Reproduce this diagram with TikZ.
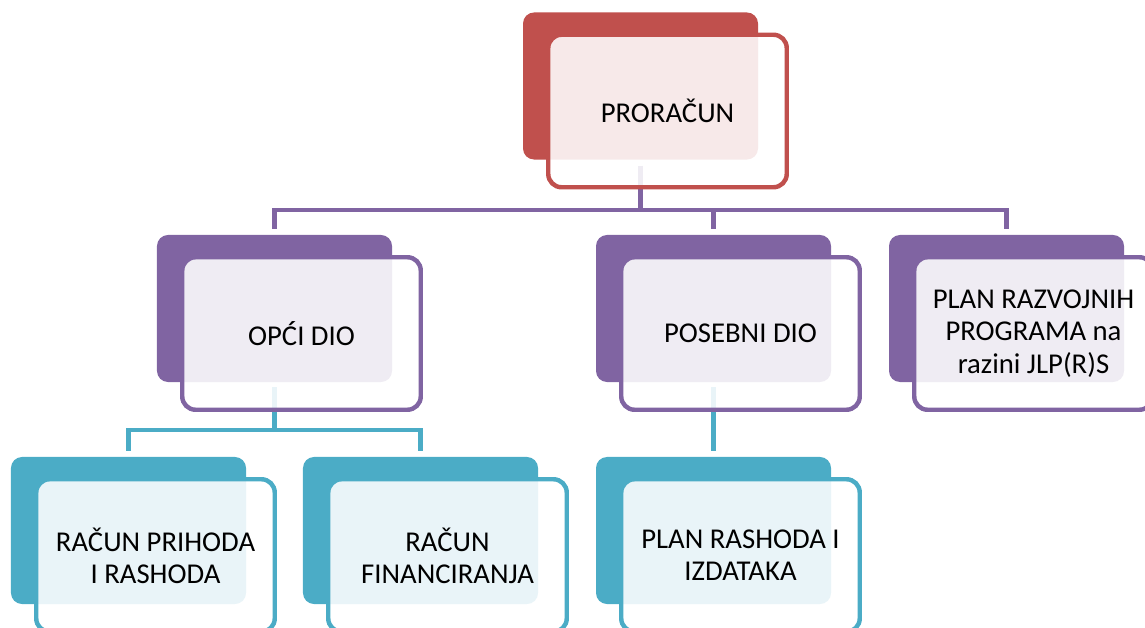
\documentclass[tikz,border=0pt]{standalone}
\usepackage{fontspec}
\setmainfont{Carlito}
\usepackage{tikz}
\definecolor{redA}{HTML}{C0504D}
\definecolor{purpleA}{HTML}{8064A2}
\definecolor{tealA}{HTML}{4BACC6}

\begin{document}
\begin{tikzpicture}[x=0.03cm, y=-0.03cm]
	\tikzstyle{backbox} = [rounded corners=0.33cm, minimum width=7.05cm, minimum height=4.41cm, inner sep=0pt]
	\tikzstyle{frontbox} = [rounded corners=0.4cm, line width=3.8pt, fill=white, fill opacity=0.88, text opacity=1, minimum width=7.155cm, minimum height=4.575cm, inner sep=2pt, align=center, font=\fontsize{24.5}{27.5}\selectfont]
	\tikzstyle{link} = [line width=3.8pt]
	\useasboundingbox (0,0) rectangle (1145,628);
	\clip (0,0) rectangle (1145,628);

	% back plates
	\node[backbox, fill=redA] (b-root) at (640.5,86) {};
	\node[backbox, fill=purpleA] (b-opci) at (274.5,308.5) {};
	\node[backbox, fill=purpleA] (b-posebni) at (713.5,308.5) {};
	\node[backbox, fill=purpleA] (b-prog) at (1006.5,308.5) {};
	\node[backbox, fill=tealA] (b-prihod) at (128.5,530.5) {};
	\node[backbox, fill=tealA] (b-fin) at (420.5,530.5) {};
	\node[backbox, fill=tealA] (b-plan) at (713.5,530.5) {};

	% connectors
	\coordinate (bus-top) at (640.5,210);
	\coordinate (bus-opci) at (274.5,430);
	\draw[link, purpleA] ([yshift=-0.18cm]b-root.south) -- (bus-top) -| ([yshift=0.18cm]b-opci.north);
	\draw[link, purpleA] (bus-top) -| ([yshift=0.18cm]b-posebni.north);
	\draw[link, purpleA] (bus-top) -| ([yshift=0.18cm]b-prog.north);
	\draw[link, tealA] ([yshift=-0.15cm]b-opci.south) -- (bus-opci) -| ([yshift=0.18cm]b-prihod.north);
	\draw[link, tealA] (bus-opci) -| ([yshift=0.18cm]b-fin.north);
	\draw[link, tealA] ([yshift=-0.15cm]b-posebni.south) -- ([yshift=0.18cm]b-plan.north);

	% text boxes
	\node[frontbox, draw=redA] (root) at ([xshift=0.81cm, yshift=-0.75cm]b-root) {PRORAČUN};
	\node[frontbox, draw=purpleA] (opci) at ([xshift=0.81cm, yshift=-0.75cm]b-opci) {OPĆI DIO};
	\node[frontbox, draw=purpleA] (posebni) at ([xshift=0.81cm, yshift=-0.75cm]b-posebni) {POSEBNI DIO};
	\node[frontbox, draw=purpleA] (prog) at ([xshift=0.81cm, yshift=-0.75cm]b-prog) {PLAN RAZVOJNIH\\PROGRAMA na\\razini JLP(R)S};
	\node[frontbox, draw=tealA] (prihod) at ([xshift=0.81cm, yshift=-0.75cm]b-prihod) {RAČUN PRIHODA\\I RASHODA};
	\node[frontbox, draw=tealA] (fin) at ([xshift=0.81cm, yshift=-0.75cm]b-fin) {RAČUN\\FINANCIRANJA};
	\node[frontbox, draw=tealA] (plan) at ([xshift=0.81cm, yshift=-0.75cm]b-plan) {PLAN RASHODA I\\IZDATAKA};
\end{tikzpicture}
\end{document}
